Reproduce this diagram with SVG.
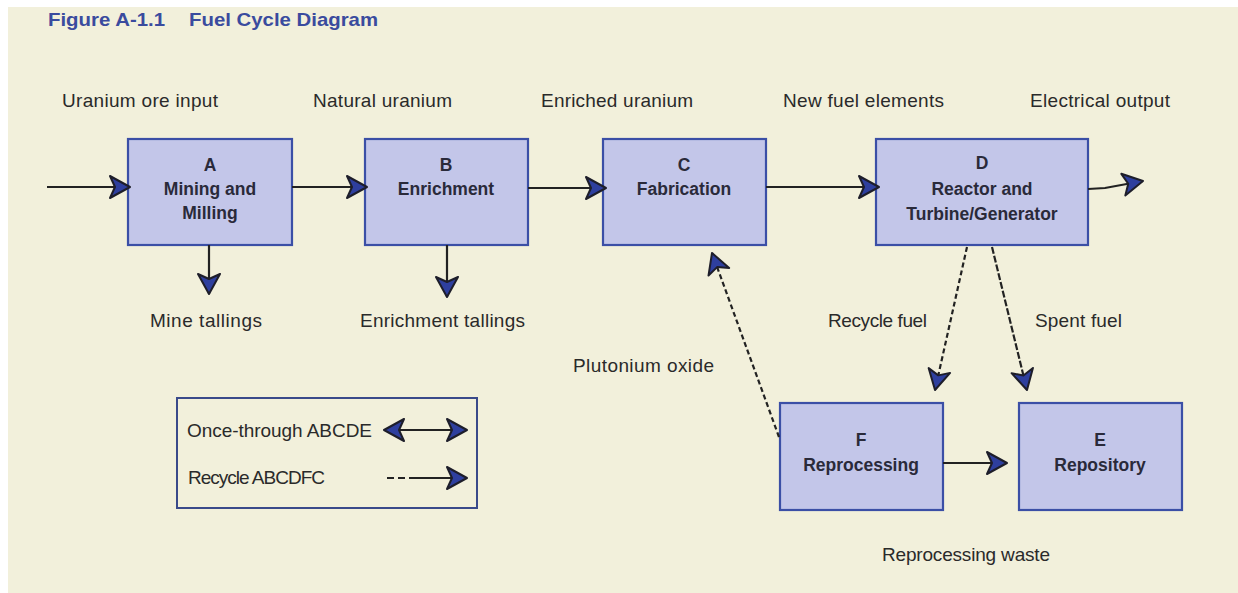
<svg xmlns="http://www.w3.org/2000/svg" width="1238" height="593" viewBox="0 0 1238 593">
<defs>
<style>
.lbl{font-family:"Liberation Sans",Arial,sans-serif;font-size:19px;fill:#2a2a2a}
.bt{font-family:"Liberation Sans",Arial,sans-serif;font-size:17.5px;font-weight:bold;fill:#2a2a3a;text-anchor:middle}
.box{fill:#c3c6e9;stroke:#3b4fa6;stroke-width:2.2}
.ln{fill:none;stroke:#222;stroke-width:2.2;marker-end:url(#ah)}
.dash{stroke-dasharray:5,3}
</style>
<marker id="ah" viewBox="0 0 24 26" refX="22" refY="13" markerWidth="24" markerHeight="26" markerUnits="userSpaceOnUse" orient="auto-start-reverse">
<path d="M22,13 L2,2 L7,13 L2,24 Z" fill="#2e3f9e" stroke="#1e1e2a" stroke-width="2" stroke-linejoin="round"/>
</marker>
</defs>
<rect x="0" y="0" width="1238" height="593" fill="#ffffff"/>
<rect x="8" y="7" width="1230" height="586" fill="#f2f0db"/>
<g font-family="'Liberation Sans',Arial,sans-serif" font-size="19" font-weight="bold" fill="#3a4b9e">
<text x="48" y="26" textLength="117" lengthAdjust="spacingAndGlyphs">Figure A-1.1</text>
<text x="189" y="26" textLength="189" lengthAdjust="spacingAndGlyphs">Fuel Cycle Diagram</text>
</g>

<g id="labels">
<text class="lbl" x="62" y="107" textLength="156">Uranium ore input</text>
<text class="lbl" x="313" y="107" textLength="139">Natural uranium</text>
<text class="lbl" x="541" y="107" textLength="152">Enriched uranium</text>
<text class="lbl" x="783" y="107" textLength="161">New fuel elements</text>
<text class="lbl" x="1030" y="107" textLength="140">Electrical output</text>
<text class="lbl" x="150" y="327" textLength="112">Mine tallings</text>
<text class="lbl" x="360" y="327" textLength="165">Enrichment tallings</text>
<text class="lbl" x="828" y="327" textLength="99">Recycle fuel</text>
<text class="lbl" x="1035" y="327" textLength="87">Spent fuel</text>
<text class="lbl" x="573" y="372" textLength="141">Plutonium oxide</text>
<text class="lbl" x="882" y="561" textLength="168">Reprocessing waste</text>
</g>

<g id="nodeA"><rect class="box" x="128" y="139" width="164" height="106"/>
<text class="bt" x="210" y="171">A</text><text class="bt" x="210" y="195">Mining and</text><text class="bt" x="210" y="219">Milling</text></g>
<g id="nodeB"><rect class="box" x="365" y="139" width="163" height="106"/>
<text class="bt" x="446" y="171">B</text><text class="bt" x="446" y="195">Enrichment</text></g>
<g id="nodeC"><rect class="box" x="603" y="139" width="163" height="106"/>
<text class="bt" x="684" y="171">C</text><text class="bt" x="684" y="195">Fabrication</text></g>
<g id="nodeD"><rect class="box" x="876" y="139" width="212" height="106"/>
<text class="bt" x="982" y="169">D</text><text class="bt" x="982" y="195">Reactor and</text><text class="bt" x="982" y="220">Turbine/Generator</text></g>
<g id="nodeF"><rect class="box" x="780" y="403" width="163" height="107"/>
<text class="bt" x="861" y="446">F</text><text class="bt" x="861" y="471">Reprocessing</text></g>
<g id="nodeE"><rect class="box" x="1019" y="403" width="163" height="107"/>
<text class="bt" x="1100" y="446">E</text><text class="bt" x="1100" y="471">Repository</text></g>

<g id="connectors">
<line class="ln" x1="47" y1="187" x2="130" y2="187"/>
<line class="ln" x1="292" y1="187" x2="367" y2="187"/>
<line class="ln" x1="528" y1="188" x2="606" y2="188"/>
<line class="ln" x1="766" y1="187" x2="879" y2="187"/>
<polyline class="ln" points="1088,189 1105,188 1143,181"/>
<line class="ln" x1="209" y1="245" x2="209" y2="294"/>
<line class="ln" x1="447" y1="245" x2="447" y2="297"/>
<line class="ln dash" x1="967" y1="247" x2="935" y2="390"/>
<line class="ln" style="stroke-dasharray:7,2" x1="992" y1="247" x2="1027" y2="390"/>
<line class="ln dash" x1="779" y1="437" x2="712" y2="253"/>
<line class="ln" x1="943" y1="463" x2="1007" y2="463"/>
</g>

<g id="legend">
<rect x="177" y="398" width="300" height="110" fill="none" stroke="#3a4a8a" stroke-width="2"/>
<text class="lbl" x="187" y="437" textLength="185">Once-through ABCDE</text>
<text class="lbl" x="188" y="484" textLength="137">Recycle ABCDFC</text>
<line class="ln" style="marker-start:url(#ah)" x1="384" y1="430" x2="467" y2="430"/>
<line class="ln" style="stroke-dasharray:7,4,7,4,60" x1="387" y1="478" x2="467" y2="478"/>
</g>
</svg>
